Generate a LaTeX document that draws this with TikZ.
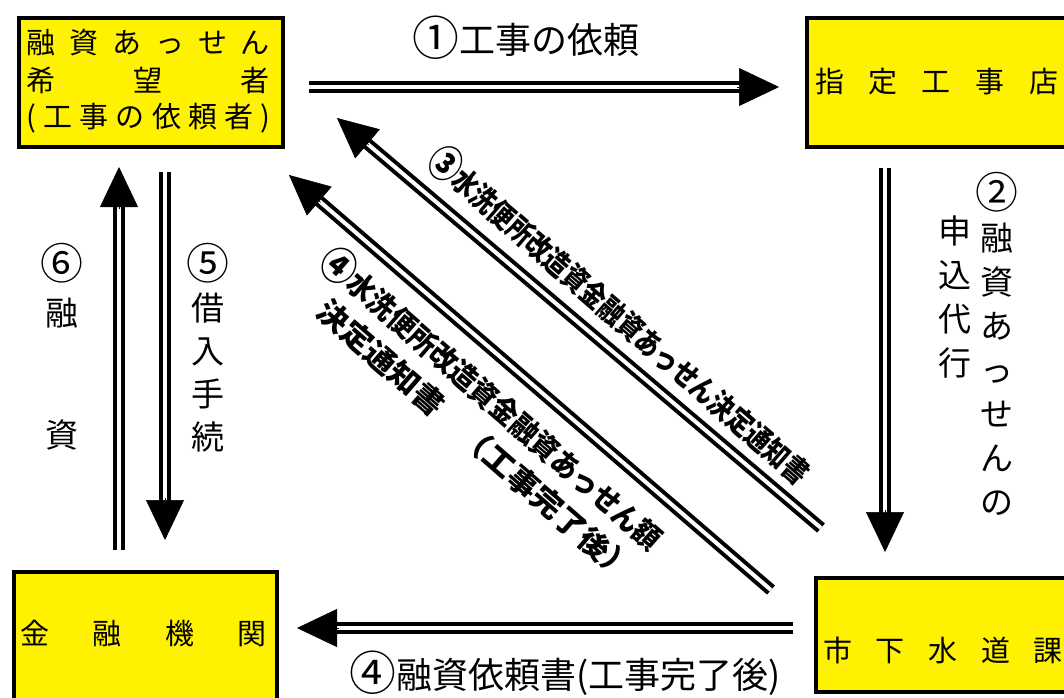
\documentclass[tikz,border=0pt]{standalone}
\usepackage{fontspec}
\setmainfont{Noto Sans CJK JP}
\usetikzlibrary{arrows.meta,calc}
\newcommand\circd[1]{\raisebox{-0.06em}{\scalebox{1.3}{#1}}}
\tikzset{
  x=1pt, y=-1pt,
  box/.style={draw=black, line width=4pt, fill=yellow, inner sep=0pt, anchor=north west},
  dbl/.style={draw=black, line width=4pt, double=white, double distance=4pt},
  head/.style={line width=0.5pt, -{Triangle[length=40pt,width=38pt]}},
  btxt/.style={inner sep=0pt, font=\fontsize{29}{34}\selectfont},
  vtxt/.style={inner sep=0pt, align=center, font=\fontsize{33}{44}\selectfont},
  htxt/.style={inner sep=0pt, font=\fontsize{36}{40}\selectfont},
  dtxt/.style={inner sep=0pt, font=\fontsize{30}{41}\selectfont\bfseries},
}
\begin{document}
\begin{tikzpicture}
\useasboundingbox (0,0) rectangle (1064,697);
% boxes
\node[box, minimum width=264pt, minimum height=129pt] (b1) at (17,16) {};
\node[box, minimum width=270pt, minimum height=129pt] (b2) at (805,16) {};
\node[box, minimum width=263pt, minimum height=140pt] (b3) at (12,570) {};
\node[box, minimum width=261pt, minimum height=114pt] (b4) at (814,576) {};
% box texts
\node[btxt] (t1a) at (148.5,43) {\makebox[243pt]{融\hfill 資\hfill あ\hfill っ\hfill せ\hfill ん}};
\node[btxt] (t1b) at (148.5,80) {\makebox[243pt]{希\hfill 望\hfill 者}};
\node[btxt] (t1c) at (148.5,118) {\makebox[243pt]{(\hfill 工\hfill 事\hfill の\hfill 依\hfill 頼\hfill 者\hfill )}};
\node[btxt] (t2) at (936.5,82) {\makebox[243pt]{指\hfill 定\hfill 工\hfill 事\hfill 店}};
\node[btxt] (t3) at (143.5,633) {\makebox[247pt]{金\hfill 融\hfill 機\hfill 関}};
\node[btxt] (t4) at (943,650) {\makebox[240pt]{市\hfill 下\hfill 水\hfill 道\hfill 課}};
% coordinates for arrows
\coordinate (a1s) at (309,87);  \coordinate (a1t) at (779,87);
\coordinate (a2s) at (885,168); \coordinate (a2t) at (885,552);
\coordinate (a6s) at (119,550); \coordinate (a6t) at (119,167);
\coordinate (a5s) at (165,172); \coordinate (a5t) at (165,540);
\coordinate (a7s) at (793,628); \coordinate (a7t) at (297,628);
\coordinate (a3s) at (821,528); \coordinate (a3t) at (337,118);
\coordinate (a4s) at (771,590); \coordinate (a4t) at (289,175);
\foreach \a in {a1,a2,a3,a4,a5,a6,a7}{
  \draw[dbl, shorten >=38pt] (\a s) -- (\a t);
  \draw[head] ($(\a t)!42pt!(\a s)$) -- (\a t);
}
% labels
\node[htxt] (l1) at (526,38) {\circd{①}工事の依頼};
\node[htxt] (l7) at (565,673) {\circd{④}融資依頼書(工事完了後)};
\node[vtxt] (l2a) at (997,343.5) {\circd{②}\\融\\資\\あ\\っ\\せ\\ん\\の};
\node[vtxt] (l2b) at (955,297) {申\\込\\代\\行};
\node[vtxt, font=\fontsize{33}{48}\selectfont] (l6a) at (62,286) {\circd{⑥}\\融};
\node[vtxt] (l6b) at (62,435) {資};
\node[vtxt, font=\fontsize{33}{43}\selectfont] (l5) at (208,348) {\circd{⑤}\\借\\入\\手\\続};
\node[dtxt, rotate=-41] (l3) at (620,315) {\scalebox{0.81}[1]{\circd{③}水洗便所改造資金融資あっせん決定通知書}};
\node[dtxt, rotate=-41, align=right] (l4) at (480,413) {\scalebox{0.9}[1]{\circd{④}水洗便所改造資金融資あっせん額}\\\scalebox{1.05}[1]{決定通知書　（工事完了後）}};
\end{tikzpicture}
\end{document}
